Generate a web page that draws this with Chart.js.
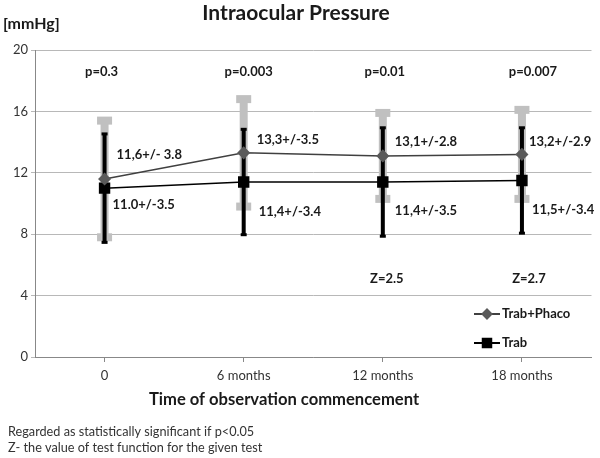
<!DOCTYPE html>
<html>
<head>
<meta charset="utf-8">
<script src="https://cdn.jsdelivr.net/npm/chart.js@4/dist/chart.umd.min.js"></script>
<style>
  body { margin: 0; background: #fff; }
  #wrap { width: 600px; height: 458px; position: relative; }
</style>
</head>
<body>
<div id="wrap"><canvas id="iop-chart"></canvas></div>
<script>
// Categories and values
const labels = ['0', '6 months', '12 months', '18 months'];
const phacoMean = [11.6, 13.3, 13.1, 13.2];
const phacoSD = [3.8, 3.5, 2.8, 2.9];
const trabMean = [11.0, 11.4, 11.4, 11.5];
const trabSD = [3.5, 3.4, 3.5, 3.4];
const phacoText = ['11,6+/- 3.8', '13,3+/-3.5', '13,1+/-2.8', '13,2+/-2.9'];
const trabText = ['11.0+/-3.5', '11,4+/-3.4', '11,4+/-3.5', '11,5+/-3.4'];
const pValues = ['p=0.3', 'p=0.003', 'p=0.01', 'p=0.007'];
const zValues = ['', '', 'Z=2.5', 'Z=2.7'];
const yTicks = [0, 4, 8, 12, 16, 20];

// label placement, pixels from each point
const phacoDx = [12, 13, 12, 7], phacoDy = [-24, -13, -14, -13];
const trabDx = [8, 15, 12, 10], trabDy = [17, 30, 29, 29];
const pDx = [-3, 5, 2, 11];
const zDx = [0, 0, 4, 7];

const FONT = 'Lato, "Liberation Sans", sans-serif';
Chart.defaults.font.family = FONT;
Chart.defaults.color = '#333';

// error bars, drawn under the lines
const errorBars = {
    id: 'errorBars',
    beforeDatasetsDraw(chart) {
        const ctx = chart.ctx, xs = chart.scales.x, ys = chart.scales.y;
        ctx.save();
        labels.forEach((l, i) => {
            const x = xs.getPixelForValue(i);
            let top = ys.getPixelForValue(phacoMean[i] + phacoSD[i]);
            let bot = ys.getPixelForValue(phacoMean[i] - phacoSD[i]);
            ctx.fillStyle = '#c0c0c0';
            ctx.fillRect(x - 4, top, 8, bot - top);
            ctx.fillRect(x - 7.5, top - 4, 15, 8);
            ctx.fillRect(x - 7.5, bot - 4, 15, 8);
        });
        labels.forEach((l, i) => {
            const x = xs.getPixelForValue(i);
            let top = ys.getPixelForValue(trabMean[i] + trabSD[i]);
            let bot = ys.getPixelForValue(trabMean[i] - trabSD[i]);
            ctx.fillStyle = '#000';
            ctx.fillRect(x - 2, top, 4, bot - top);
            ctx.fillRect(x - 3, top - 2, 6, 3);
            ctx.fillRect(x - 3, bot - 1, 6, 3);
        });
        ctx.restore();
    }
};

// titles, value labels, p / Z texts, legend and footnote
const annotations = {
    id: 'annotations',
    afterDraw(chart) {
        const ctx = chart.ctx, xs = chart.scales.x, ys = chart.scales.y;
        ctx.save();
        ctx.fillStyle = '#1a1a1a';
        ctx.textBaseline = 'middle';

        ctx.textAlign = 'center';
        ctx.font = 'bold 21px ' + FONT;
        ctx.fillText('Intraocular Pressure', 296, 13);
        ctx.font = 'bold 16.6px ' + FONT;
        ctx.fillText('Time of observation commencement', 284, 400);

        ctx.textAlign = 'left';
        ctx.font = 'bold 16px ' + FONT;
        ctx.fillText('[mmHg]', 3, 24);

        ctx.font = 'bold 13px ' + FONT;
        labels.forEach((l, i) => {
            const x = xs.getPixelForValue(i);
            ctx.textAlign = 'center';
            ctx.fillText(pValues[i], x + pDx[i], 72);
            if (zValues[i]) ctx.fillText(zValues[i], x + zDx[i], 279);
            ctx.textAlign = 'left';
            ctx.fillText(phacoText[i], x + phacoDx[i], ys.getPixelForValue(phacoMean[i]) + phacoDy[i]);
            ctx.fillText(trabText[i], x + trabDx[i], ys.getPixelForValue(trabMean[i]) + trabDy[i]);
        });

        // legend
        const legendRadius = [4.5, 6];
        chart.data.datasets.forEach((ds, i) => {
            const y = 314 + i * 29;
            ctx.strokeStyle = ds.borderColor;
            ctx.lineWidth = 2;
            ctx.beginPath();
            ctx.moveTo(474, y);
            ctx.lineTo(500, y);
            ctx.stroke();
            ctx.fillStyle = ds.pointBackgroundColor;
            ctx.strokeStyle = ds.pointBackgroundColor;
            Chart.helpers.drawPoint(ctx, { pointStyle: ds.pointStyle, radius: legendRadius[i], borderWidth: 1 }, 487, y);
            ctx.fillStyle = '#1a1a1a';
            ctx.font = 'bold 13px ' + FONT;
            ctx.fillText(ds.label, 502, y);
        });

        ctx.font = '12.7px ' + FONT;
        ctx.fillStyle = '#333';
        ctx.fillText('Regarded as statistically significant if p<0.05', 8, 432);
        ctx.fillText('Z- the value of test function for the given test', 8, 448);
        ctx.restore();
    }
};

new Chart(document.getElementById('iop-chart'), {
    type: 'line',
    data: {
        labels: labels,
        datasets: [
            {
                label: 'Trab+Phaco',
                data: phacoMean,
                borderColor: '#404040',
                borderWidth: 1.5,
                pointStyle: 'rectRot',
                pointRadius: 5.5,
                pointBackgroundColor: '#5a5a5a',
                pointBorderColor: '#5a5a5a',
                order: 1
            },
            {
                label: 'Trab',
                data: trabMean,
                borderColor: '#000',
                borderWidth: 1.5,
                pointStyle: 'rect',
                pointRadius: 7,
                pointBackgroundColor: '#000',
                pointBorderColor: '#000',
                order: 2
            }
        ]
    },
    options: {
        responsive: true,
        maintainAspectRatio: false,
        animation: false,
        layout: { padding: { top: 50, left: 0, right: 5, bottom: 0 } },
        plugins: {
            legend: { display: false },
            title: { display: false },
            tooltip: { enabled: false }
        },
        scales: {
            x: {
                offset: true,
                afterFit: scale => { scale.height = 101; },
                grid: { drawOnChartArea: false, tickLength: 5, color: '#888' },
                border: { color: '#888' },
                ticks: { padding: 6, color: '#333', font: { size: 13 } }
            },
            y: {
                min: 0,
                max: 20,
                afterFit: scale => { scale.width = 35; },
                afterBuildTicks: scale => { scale.ticks = yTicks.map(v => ({ value: v })); },
                grid: { color: '#b8b8b8', tickLength: 4 },
                border: { color: '#888' },
                ticks: { padding: 3, color: '#333', font: { size: 13 } }
            }
        }
    },
    plugins: [errorBars, annotations]
});
</script>
</body>
</html>
